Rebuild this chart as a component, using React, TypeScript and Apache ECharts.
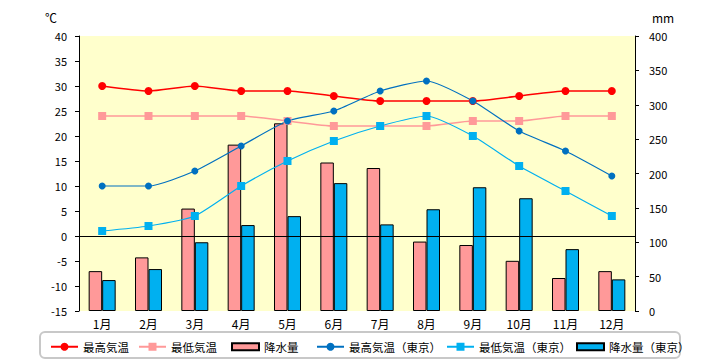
import React, { useEffect, useRef } from "react";
import * as echarts from "echarts";

const months = ["1月", "2月", "3月", "4月", "5月", "6月", "7月", "8月", "9月", "10月", "11月", "12月"];
const maxTemp = [30, 29, 30, 29, 29, 28, 27, 27, 27, 28, 29, 29];
const minTemp = [24, 24, 24, 24, 23, 22, 22, 22, 23, 23, 24, 24];
const precip = [58, 78, 149, 242, 273, 216, 208, 101, 96, 73, 48, 58];
const tokyoMax = [10, 10, 13, 18, 23, 25, 29, 31, 27, 21, 17, 12];
const tokyoMin = [1, 2, 4, 10, 15, 19, 22, 24, 20, 14, 9, 4];
const tokyoPrecip = [45, 61, 100, 125, 138, 186, 126, 148, 180, 164, 90, 46];

const seriesNames = ["最高気温", "最低気温", "降水量", "最高気温（東京）", "最低気温（東京）", "降水量（東京）"];
const legendLefts = [50, 138, 231, 316, 446, 576];

const FONT = "'Noto Sans CJK JP', 'Noto Sans', sans-serif";

export default function App() {
  const ref = useRef<HTMLDivElement>(null);
  useEffect(() => {
    if (!ref.current) return;
    document.body.style.margin = "0";
    const chart = echarts.init(ref.current, null, { renderer: "svg" });
    const barIcon = "path://M0,0h27v7h-27z";
    const legends = seriesNames.map((name, i) => ({
      data: [i === 2 || i === 5 ? { name, icon: barIcon } : { name }],
      left: legendLefts[i],
      top: 341,
      padding: 0,
      itemWidth: 27,
      itemHeight: 10,
      z: 10,
      selectedMode: false,
      textStyle: { fontSize: 11.5, color: "#000", fontFamily: FONT },
    }));
    const axisCommon = {
      type: "value" as const,
      axisLine: { show: true, lineStyle: { color: "#000", width: 1 } },
      axisTick: { show: true, inside: false, length: 4, lineStyle: { color: "#000" } },
      splitLine: { show: false },
    };
    chart.setOption({
      animation: false,
      backgroundColor: "#fff",
      textStyle: { fontFamily: FONT },
      grid: {
        left: 79,
        right: 85,
        top: 36,
        bottom: 49,
        show: true,
        backgroundColor: "#FFFFCC",
        borderWidth: 0,
      },
      legend: legends,
      graphic: [
        {
          type: "rect",
          shape: { x: 40, y: 332, width: 640, height: 26, r: 5 },
          style: { fill: "#fff", stroke: "#c8c8c8", lineWidth: 2 },
          z: 1,
        },
        {
          type: "text",
          left: 45,
          top: 11,
          style: { text: "℃", fontSize: 12, fill: "#000", fontFamily: FONT },
        },
        {
          type: "text",
          left: 652,
          top: 11,
          style: { text: "mm", fontSize: 12, fill: "#000", fontFamily: FONT },
        },
      ],
      xAxis: {
        type: "category",
        data: months,
        axisLine: { show: false },
        axisTick: { show: false },
        axisLabel: { fontSize: 12, color: "#000", margin: 6, fontFamily: FONT },
      },
      yAxis: [
        {
          ...axisCommon,
          min: -15,
          max: 40,
          interval: 5,
          position: "left",
          axisLabel: { fontSize: 11, color: "#000", margin: 12, fontFamily: FONT },
        },
        {
          ...axisCommon,
          min: 0,
          max: 400,
          interval: 50,
          position: "right",
          axisLabel: { fontSize: 11, color: "#000", margin: 14, fontFamily: FONT },
        },
      ],
      series: [
        {
          name: "降水量",
          type: "bar",
          yAxisIndex: 1,
          data: precip,
          barWidth: 13.5,
          barGap: "0%",
          itemStyle: { color: "#FF9999", borderColor: "#000", borderWidth: 1 },
          z: 2,
        },
        {
          name: "降水量（東京）",
          type: "bar",
          yAxisIndex: 1,
          data: tokyoPrecip,
          barWidth: 13.5,
          barGap: "0%",
          itemStyle: { color: "#00B0F0", borderColor: "#000", borderWidth: 1 },
          z: 2,
        },
        {
          name: "最高気温",
          type: "line",
          yAxisIndex: 0,
          data: maxTemp,
          symbol: "circle",
          symbolSize: 8,
          smooth: 0.2,
          lineStyle: { color: "#FF0000", width: 1.5 },
          itemStyle: { color: "#FF0000" },
          z: 4,
          markLine: {
            silent: true,
            symbol: ["none", "none"],
            label: { show: false },
            lineStyle: { color: "#000", width: 1, type: "solid" },
            emphasis: { disabled: true },
            data: [{ yAxis: 0 }],
          },
        },
        {
          name: "最低気温",
          type: "line",
          yAxisIndex: 0,
          data: minTemp,
          symbol: "rect",
          symbolSize: 8,
          smooth: 0.2,
          lineStyle: { color: "#FF9999", width: 1.5 },
          itemStyle: { color: "#FF9999" },
          z: 4,
        },
        {
          name: "最高気温（東京）",
          type: "line",
          yAxisIndex: 0,
          data: tokyoMax,
          symbol: "circle",
          symbolSize: 7,
          smooth: 0.2,
          lineStyle: { color: "#0070C0", width: 1.2 },
          itemStyle: { color: "#0070C0" },
          z: 4,
        },
        {
          name: "最低気温（東京）",
          type: "line",
          yAxisIndex: 0,
          data: tokyoMin,
          symbol: "rect",
          symbolSize: 8,
          smooth: 0.2,
          lineStyle: { color: "#00B0F0", width: 1.2 },
          itemStyle: { color: "#00B0F0" },
          z: 4,
        },
      ],
    });
    return () => chart.dispose();
  }, []);
  return <div ref={ref} style={{ width: 720, height: 360 }} />;
}
